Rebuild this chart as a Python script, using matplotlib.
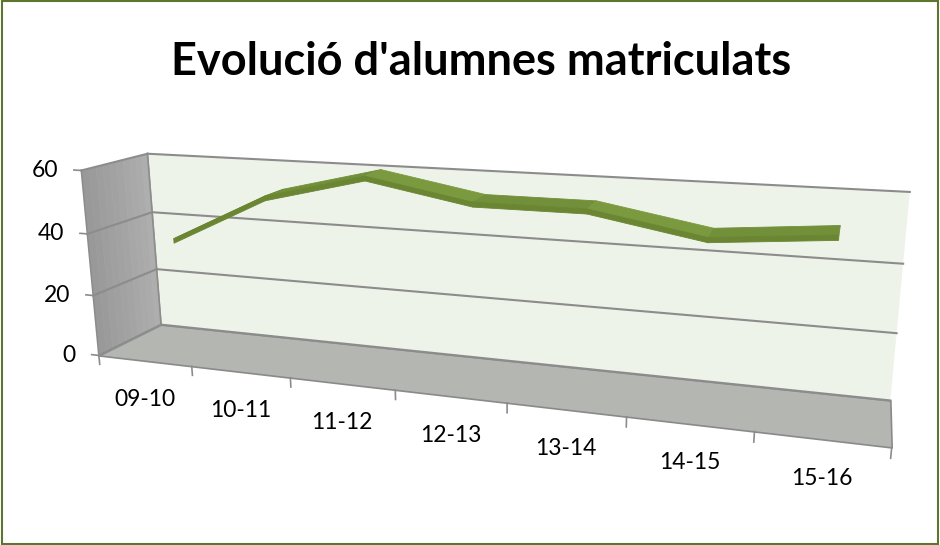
import numpy as np
import matplotlib.pyplot as plt
from mpl_toolkits.mplot3d import proj3d
from mpl_toolkits.mplot3d.art3d import Poly3DCollection

cursos = ['09-10', '10-11', '11-12', '12-13', '13-14', '14-15', '15-16']
alumnes = [35, 51, 59, 53, 53, 47, 50]
valors_eix = [0, 20, 40, 60]

plt.rcParams['font.family'] = ['Lato', 'DejaVu Sans']

fig = plt.figure(figsize=(9.4, 5.45), dpi=100)
fig.patches.append(plt.Rectangle((0.002, 0.002), 0.996, 0.996, transform=fig.transFigure,
                                 fill=False, ec='#5E7530', lw=1.5))
fig.text(0.512, 0.862, "Evolució d'alumnes matriculats", ha='center', va='baseline',
         fontsize=32.5, fontweight='bold')

ax = fig.add_axes([0.051, -0.288, 0.873, 1.505], projection='3d', computed_zorder=False)
ax.set_proj_type('persp', focal_length=0.26)
ax.view_init(elev=15, azim=-71, roll=0.4)

n = len(cursos)
x0, x1 = -0.5, n - 0.5
D = 1.0
zmax = valors_eix[-1]
ax.set_xlim(x0, x1)
ax.set_ylim(0, D)
ax.set_zlim(0, zmax)
ax.set_box_aspect((4.3, 0.63, 1.075))
ax.set_axis_off()
M = ax.get_proj()


def label3d(x, y, z, s, dx, dy, **kw):
    # place a text at a projected 3d point, shifted by a fixed number of pixels
    xp, yp, _ = proj3d.proj_transform(x, y, z, M)
    ax.annotate(s, xy=(xp, yp), xycoords='data', xytext=(dx * 0.72, dy * 0.72),
                textcoords='offset points', fontsize=16.5, **kw)


# walls
terra = [[(x0, 0, 0), (x1, 0, 0), (x1, D, 0), (x0, D, 0)]]
ax.add_collection3d(Poly3DCollection(terra, facecolor='#B4B6B1', edgecolor='#8A8A8A', lw=1.2))
fons = [[(x0, D, 0), (x1, D, 0), (x1, D, zmax), (x0, D, zmax)]]
ax.add_collection3d(Poly3DCollection(fons, facecolor='#EEF3EA', edgecolor='none'))
tires = np.linspace(0, D, 11)
grisos = plt.cm.gray(np.linspace(0.6, 0.68, 10))
for k in range(10):
    p = [[(x0, tires[k], 0), (x0, tires[k + 1], 0), (x0, tires[k + 1], zmax), (x0, tires[k], zmax)]]
    ax.add_collection3d(Poly3DCollection(p, facecolor=grisos[k], edgecolor=grisos[k], lw=0.5))

# gridlines and value axis
for v in valors_eix:
    ax.plot([x0, x1], [D, D], [v, v], color='#8C8C8C', lw=1.5, zorder=3)
    ax.plot([x0, x0], [0, D], [v, v], color='#8C8C8C', lw=1.5, zorder=3)
    ax.plot([x0 - 0.08, x0], [0, 0], [v, v], color='#8C8C8C', lw=1.2, zorder=3)
    label3d(x0, 0, v, str(v), -23, 0, ha='right', va='center')
ax.plot([x0, x0], [0, 0], [0, zmax], color='#8C8C8C', lw=1.2, zorder=3)
ax.plot([x0, x0], [D, D], [0, zmax], color='#8C8C8C', lw=1.2, zorder=3)

# category ticks and labels
for k in range(n + 1):
    ax.plot([x0 + k, x0 + k], [0, 0], [0, -3], color='#8C8C8C', lw=1.2, zorder=3)
for i, c in enumerate(cursos):
    label3d(i, 0, 0, c, 0, -39, ha='center', va='center')

# ribbon: top surface plus a thin front face
ya, yb = 0.6 * D, 0.95 * D
gruix = 1.5
cares = []
colors = []
for i in range(n - 1):
    a, b = alumnes[i], alumnes[i + 1]
    cares.append([(i, ya, a - gruix), (i + 1, ya, b - gruix), (i + 1, ya, b), (i, ya, a)])
    colors.append('#6A8632')
    cares.append([(i, ya, a), (i + 1, ya, b), (i + 1, yb, b), (i, yb, a)])
    colors.append('#7B9A40' if b < a else '#728F39')
ax.add_collection3d(Poly3DCollection(cares, facecolor=colors, edgecolor=colors, lw=0.6, zorder=5))

for art in ax.collections + ax.lines:
    art.set_clip_on(False)

fig.savefig('out.png', dpi=100)
